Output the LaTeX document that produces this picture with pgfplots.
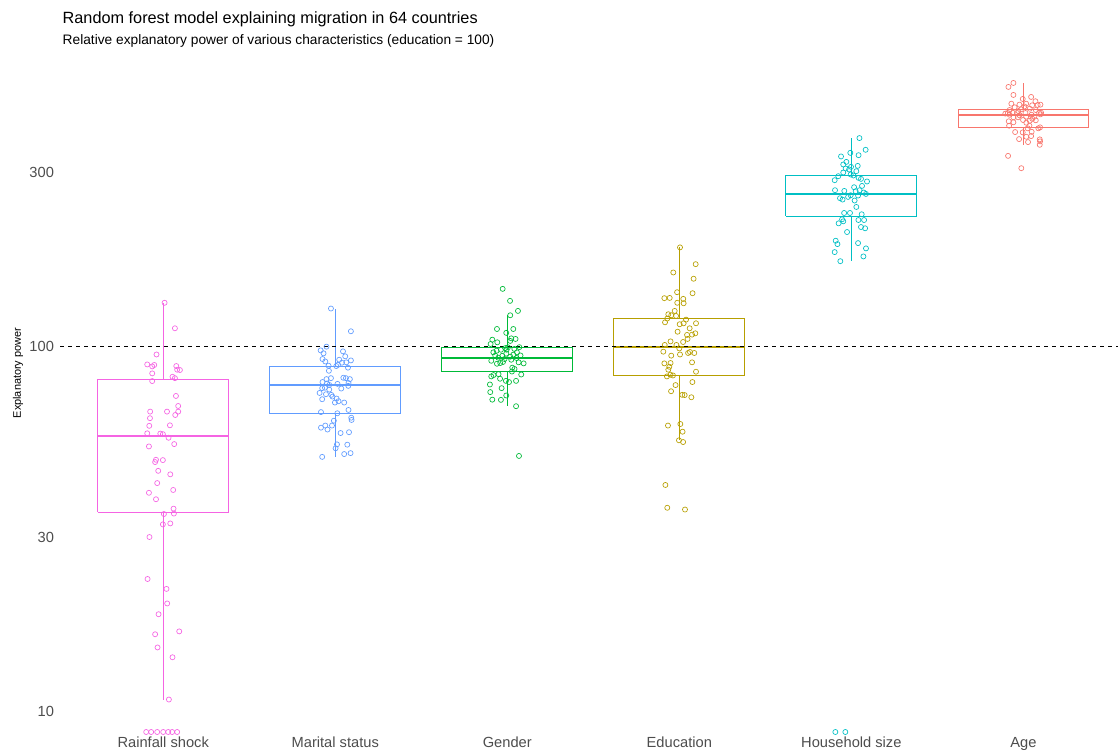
\documentclass[border=0pt]{standalone}
\usepackage{fontspec}
\setmainfont{Liberation Sans}
\usepackage{pgfplots}
\pgfplotsset{compat=1.18}
\definecolor{cRain}{HTML}{F564E3}
\definecolor{cMar}{HTML}{619CFF}
\definecolor{cGen}{HTML}{00BA38}
\definecolor{cEdu}{HTML}{B79F00}
\definecolor{cHH}{HTML}{00BFC4}
\definecolor{cAge}{HTML}{F8766D}
\definecolor{tickgray}{HTML}{4D4D4D}
\pgfplotsset{
  bl/.style={line width=0.75pt, no marks},
  med/.style={line width=1.5pt, no marks},
  jit/.style={only marks, mark=o, mark size=1.9pt, mark options={line width=0.5pt}},
}
\begin{document}
\begin{tikzpicture}
\useasboundingbox (-45pt,-13.5pt) rectangle (794.25pt,549pt);
\begin{axis}[
  at={(0,0)}, anchor=south west,
  scale only axis, width=793.5pt, height=504pt,
  ymode=log, ymin=8.8, ymax=610,
  xmin=0.4, xmax=6.55,
  xtick={1,2,3,4,5,6},
  xticklabels={Rainfall shock, Marital status, Gender, Education, Household size, Age},
  ytick={10,30,100,300}, yticklabels={10,30,100,300},
  minor ytick={},
  axis line style={draw=none},
  major tick length=0pt, tick style={draw=none},
  ticklabel style={font=\fontsize{11}{13}\selectfont, text=tickgray},
  yticklabel style={xshift=-1pt},
  xticklabel style={anchor=base, yshift=-11.8pt},
  clip=true,
]
% Rainfall shock
\addplot[cRain, bl] coordinates {(0.62,35.2)(1.38,35.2)(1.38,81.5)(0.62,81.5)(0.62,35.2)};
\addplot[cRain, bl] coordinates {(1,81.5)(1,131.9)};
\addplot[cRain, bl] coordinates {(1,35.2)(1,10.8)};
\addplot[cRain, med] coordinates {(0.62,57.1)(1.38,57.1)};
% Marital status
\addplot[cMar, bl] coordinates {(1.62,65.5)(2.38,65.5)(2.38,88.5)(1.62,88.5)(1.62,65.5)};
\addplot[cMar, bl] coordinates {(2,88.5)(2,127.0)};
\addplot[cMar, bl] coordinates {(2,65.5)(2,50.0)};
\addplot[cMar, med] coordinates {(1.62,78.6)(2.38,78.6)};
% Gender
\addplot[cGen, bl] coordinates {(2.62,85.4)(3.38,85.4)(3.38,99.2)(2.62,99.2)(2.62,85.4)};
\addplot[cGen, bl] coordinates {(3,99.2)(3,122.4)};
\addplot[cGen, bl] coordinates {(3,85.4)(3,68.9)};
\addplot[cGen, med] coordinates {(2.62,93.1)(3.38,93.1)};
% Education
\addplot[cEdu, bl] coordinates {(3.62,83.2)(4.38,83.2)(4.38,119.6)(3.62,119.6)(3.62,83.2)};
\addplot[cEdu, bl] coordinates {(4,119.6)(4,187.9)};
\addplot[cEdu, bl] coordinates {(4,83.2)(4,55.5)};
\addplot[cEdu, med] coordinates {(3.62,100)(4.38,100)};
% Household size
\addplot[cHH, bl] coordinates {(4.62,227.5)(5.38,227.5)(5.38,293.8)(4.62,293.8)(4.62,227.5)};
\addplot[cHH, bl] coordinates {(5,293.8)(5,372)};
\addplot[cHH, bl] coordinates {(5,227.5)(5,172.2)};
\addplot[cHH, med] coordinates {(4.62,262)(5.38,262)};
% Age
\addplot[cAge, bl] coordinates {(5.62,397.9)(6.38,397.9)(6.38,446.7)(5.62,446.7)(5.62,397.9)};
\addplot[cAge, bl] coordinates {(6,446.7)(6,527)};
\addplot[cAge, bl] coordinates {(6,397.9)(6,357)};
\addplot[cAge, med] coordinates {(5.62,432)(6.38,432)};

\addplot[black, line width=0.8pt, dash pattern=on 3pt off 3pt, no marks] coordinates {(0.4,100) (6.55,100)};

\addplot[cRain, jit] coordinates {
(1.008,131.9)(1.068,112.3)(0.961,95.2)(0.907,89.4)(0.936,88.3)(0.948,89.1)(1.076,88.5)(1.081,86.5)(1.097,86.3)(0.936,84.5)(0.936,80.5)(1.054,82.7)(1.068,82.0)(1.074,73.3)(1.087,68.8)(0.924,66.4)(1.022,66.4)(1.087,66.4)(1.070,65.0)(0.923,63.7)(0.919,60.7)(1.039,60.9)(0.907,57.9)(0.983,57.8)(0.998,57.6)(1.031,56.3)(0.917,53.3)(1.064,54.1)(0.958,49.0)(0.953,48.3)(0.998,48.9)(0.971,45.7)(1.041,44.7)(0.965,42.3)(1.058,40.5)(0.917,39.8)(0.958,38.2)(1.060,36.0)(1.062,34.9)(1.004,34.8)(0.998,32.6)(1.041,32.8)(0.920,30.1)(0.909,23.1)(1.019,21.7)(1.023,19.8)(0.973,18.5)(1.093,16.6)(0.953,16.3)(0.967,15.0)(1.054,14.1)(1.033,10.8)
(0.901,8.8)(0.930,8.8)(0.965,8.8)(1.000,8.8)(1.029,8.8)(1.052,8.8)(1.081,8.8)
};
\addplot[cMar, jit] coordinates {
(1.975,127.2)(2.091,110.2)(1.949,100)(1.915,97.7)(1.932,95.9)(2.045,97.1)(2.058,94.1)(1.926,92.5)(2.023,92.1)(2.091,91.7)(1.942,91.1)(2.039,90.4)(2.064,90.6)(1.961,88.7)(2.006,88.5)(2.016,89.2)(2.074,87.6)(1.963,85.9)(2.047,82.2)(2.062,82.0)(2.085,81.5)(1.949,81.5)(1.975,82.0)(1.926,80.0)(1.952,79.3)(2.013,79.1)(1.965,78.6)(2.077,79.5)(2.076,78.1)(1.924,77.0)(1.940,77.2)(1.965,76.3)(2.035,76.8)(1.909,74.7)(1.946,74.1)(1.977,73.8)(1.984,73.0)(1.924,71.8)(2.008,72.1)(1.998,70.3)(2.019,70.9)(2.052,70.3)(1.917,66.2)(2.077,67.1)(2.012,65.7)(2.093,63.9)(2.095,63.0)(1.992,62.7)(1.981,60.8)(1.942,60.8)(1.917,60.0)(1.955,59.3)(2.031,58.0)(2.080,58.3)(2.010,54.0)(2.070,53.9)(2.002,52.7)(2.052,50.8)(2.089,51.1)(1.924,49.9)
};
\addplot[cGen, jit] coordinates {
(2.973,144.0)(3.016,133.5)(3.062,125.3)(3.017,121.9)(2.940,111.8)(2.994,109.1)(3.035,111.8)(2.913,104.5)(2.942,102.8)(3.023,105.4)(3.048,105.0)(2.903,101.7)(3.017,103.7)(3.004,99.6)(2.919,96.5)(2.938,97.5)(2.963,98.1)(2.996,98.1)(3.041,98.6)(3.056,96.5)(3.077,94.6)(2.907,91.5)(2.940,89.8)(2.959,90.2)(2.975,90.8)(2.984,92.5)(3.023,92.1)(3.054,93.1)(3.066,90.6)(3.095,90.0)(3.029,87.6)(3.042,86.9)(3.027,85.5)(3.081,83.9)(2.907,82.9)(2.920,83.6)(2.949,84.1)(2.958,81.7)(2.992,80.6)(3.010,80.0)(3.051,80.6)(2.899,78.8)(2.967,77.0)(2.901,75.1)(2.994,73.5)(2.913,71.6)(2.963,71.5)(3.051,68.7)(3.068,50.2)
(2.971,94.4)(2.994,95.7)(3.017,93.9)(2.948,93.3)(3.035,95.1)(2.988,99.1)(3.070,99.7)(2.930,94.5)
};
\addplot[cEdu, jit] coordinates {
(4.004,187.1)(4.095,168.3)(3.965,159.7)(4.083,153.5)(3.987,141.0)(4.077,140.1)(3.913,135.8)(3.944,136.0)(4.023,135.2)(3.988,131.9)(4.025,131.5)(3.973,125.3)(3.936,122.7)(3.953,121.9)(3.981,121.4)(3.930,119.4)(4.039,118.6)(3.917,116.6)(4.002,115.2)(4.025,115.9)(4.097,115.9)(4.060,112.3)(3.990,109.9)(4.093,108.8)(4.045,107.7)(4.074,107.9)(4.048,105.0)(3.949,103.4)(4.022,103.0)(3.915,101.1)(3.983,101.1)(4.000,98.9)(3.907,96.9)(4.051,96.1)(4.062,96.7)(4.087,96.1)(4.004,95.2)(3.953,94.5)(3.913,90.0)(3.949,90.2)(4.074,90.6)(3.942,88.1)(3.936,86.5)(4.097,85.4)(3.948,83.8)(3.928,82.9)(3.963,83.4)(3.978,78.5)(4.076,80.0)(3.952,75.5)(4.017,73.8)(4.031,73.7)(4.070,72.7)(3.934,60.8)(4.006,61.4)(4.019,58.5)(3.998,55.4)(4.022,54.8)(3.919,41.8)(3.930,36.2)(4.033,35.8)
};
\addplot[cHH, jit] coordinates {
(5.047,372.8)(5.083,346.2)(4.994,339.6)(5.042,334.7)(4.940,332.0)(4.971,320.8)(4.953,315.6)(5.037,312.8)(4.998,310.9)(4.967,307.7)(4.987,305.8)(5.029,302.5)(4.953,300.0)(4.924,293.1)(4.996,296.3)(5.012,294.4)(5.042,290.0)(5.056,288.2)(4.903,285.8)(5.091,283.5)(5.062,275.7)(5.016,273.4)(4.905,268.3)(4.959,267.1)(5.025,266.6)(5.048,268.3)(5.072,264.4)(5.085,262.1)(4.996,259.9)(5.039,259.4)(4.934,255.1)(4.949,252.9)(5.019,251.4)(4.981,257.2)(5.029,241.4)(4.958,232.4)(4.992,232.4)(5.060,230.5)(4.946,223.3)(5.041,222.3)(5.074,222.3)(4.926,217.7)(4.953,220.5)(5.056,212.7)(5.080,211.0)(4.975,206.1)(4.909,195.1)(4.919,191.0)(5.039,192.2)(5.085,185.9)(4.903,181.6)(5.070,176.7)(4.936,171.5)
(4.907,8.8)(4.965,8.8)
};
\addplot[cAge, jit] coordinates {
(5.942,527.8)(5.913,514.7)(5.942,489.3)(5.996,477.1)(6.045,483.2)(6.070,470.2)(5.977,460.2)(6.016,463.1)(6.051,458.4)(6.083,459.3)(6.099,460.2)(5.949,452.7)(5.920,445.0)(5.987,446.9)(6.037,448.6)(6.072,445.0)(5.909,436.6)(5.938,437.4)(5.963,436.6)(6.012,436.6)(6.091,437.4)(6.103,437.4)(5.978,430.3)(6.047,431.9)(5.920,431.9)(5.969,424.9)(6.016,426.6)(6.064,426.6)(5.998,417.8)(6.037,415.9)(6.072,417.0)(5.915,414.4)(5.942,411.8)(6.017,410.7)(5.917,403.0)(6.035,403.0)(6.087,396.4)(6.097,398.9)(6.025,396.4)(5.952,387.2)(5.996,386.5)(6.048,387.9)(6.017,375.8)(6.045,377.5)(5.975,370.4)(6.095,369.7)(6.097,365.1)(6.027,363.5)(6.095,357.3)(5.911,333.2)(5.988,308.3)
(5.895,435)(5.942,425)(6.099,433)(5.971,442)(6.052,421)(6.006,455)(5.930,463)
};
\end{axis}
\node[rotate=90, font=\fontsize{8.2}{10}\selectfont] at (-31.5pt,269.25pt) {Explanatory power};
\node[anchor=base west, font=\fontsize{12.2}{14}\selectfont] at (-1.5pt,531pt) {Random forest model explaining migration in 64 countries};
\node[anchor=base west, font=\fontsize{10.3}{12}\selectfont] at (-1.5pt,515.25pt) {Relative explanatory power of various characteristics (education = 100)};
\end{tikzpicture}
\end{document}
